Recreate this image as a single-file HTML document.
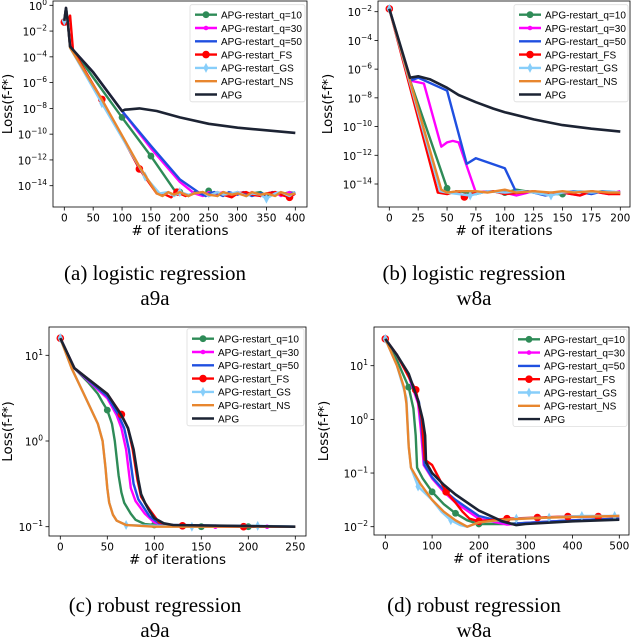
<!DOCTYPE html>
<html><head><meta charset="utf-8"><style>
body{margin:0;background:#fff;}
svg{display:block;font-family:"DejaVu Sans","Liberation Sans",sans-serif;}
.cap{font-family:"Liberation Serif",serif;font-size:21px;fill:#000;}
.lgt{font-family:"Liberation Sans",sans-serif;}
</style></head><body>
<svg id="fig" width="632" height="640" viewBox="0 0 632 640">
<text class="cap" x="155" y="280" text-anchor="middle">(a) logistic regression</text>
<text class="cap" x="155" y="305" text-anchor="middle">a9a</text>
<text class="cap" x="474" y="280" text-anchor="middle">(b) logistic regression</text>
<text class="cap" x="474" y="305" text-anchor="middle">w8a</text>
<text class="cap" x="155" y="612" text-anchor="middle">(c) robust regression</text>
<text class="cap" x="155" y="637" text-anchor="middle">a9a</text>
<text class="cap" x="474" y="612" text-anchor="middle">(d) robust regression</text>
<text class="cap" x="474" y="637" text-anchor="middle">w8a</text>
</svg>
<script>
const seriesNames = ["APG-restart_q=10","APG-restart_q=30","APG-restart_q=50","APG-restart_FS","APG-restart_GS","APG-restart_NS","APG"];
// ===== Panel A =====
const A_x_q10=[0,3,6,10,20,50,100,150,190,200,215,225,240,250,265,275,290,300,315,325,340,350,365,375,390,400];
const A_y_q10=[-1.2,-0.2,-1.3,-3.2,-3.7,-5.6,-8.7,-11.7,-14.3,-14.5,-14.8,-14.5,-14.7,-14.4,-14.8,-14.5,-14.7,-14.5,-14.8,-14.6,-14.5,-14.8,-14.5,-14.7,-14.5,-14.6];
const A_x_q30=[0,3,6,10,20,50,100,150,200,225,240,250,260,275,290,300,315,325,340,350,365,375,390,400];
const A_y_q30=[-1.2,-0.2,-1.3,-3.2,-3.7,-5.2,-8.2,-11.1,-13.7,-14.6,-14.8,-14.5,-14.7,-14.5,-14.8,-14.5,-14.7,-14.5,-14.8,-14.6,-14.5,-14.8,-14.5,-14.7];
const A_x_q50=[0,3,6,10,20,50,100,150,200,235,245,250,260,275,285,300,310,325,340,350,360,375,385,400];
const A_y_q50=[-1.2,-0.2,-1.3,-3.2,-3.7,-5.2,-8.2,-10.9,-13.5,-14.6,-14.8,-14.6,-14.5,-14.8,-14.5,-14.7,-14.5,-14.8,-14.6,-14.7,-14.5,-14.6,-14.8,-14.5];
const A_x_FS=[0,3,6,10,15,65,130,160,175,185,195,210,225,240,250,265,275,290,300,315,325,340,350,365,375,390,400];
const A_y_FS=[-1.3,-0.3,-1.3,-0.8,-3.5,-7.3,-12.7,-14.6,-14.7,-14.9,-14.5,-14.8,-14.6,-14.5,-14.8,-14.5,-14.7,-14.9,-14.6,-14.5,-14.7,-14.8,-14.6,-14.5,-14.7,-14.9,-14.6];
const A_x_GS=[0,3,6,10,65,140,165,180,190,200,215,225,240,250,265,275,290,300,315,325,340,350,365,375,390,400];
const A_y_GS=[-1.2,-0.2,-1.3,-3.3,-7.6,-13.3,-14.6,-14.5,-14.8,-14.5,-14.7,-14.6,-14.5,-14.8,-14.5,-14.7,-14.6,-14.5,-14.8,-14.6,-14.7,-15.0,-14.6,-14.5,-14.8,-14.5];
const A_x_NS=[0,3,6,10,65,130,160,170,180,190,200,215,225,240,250,265,275,290,300,315,325,340,350,365,375,390,400];
const A_y_NS=[-1.2,-0.2,-1.3,-3.3,-7.3,-12.5,-14.6,-14.8,-14.5,-14.7,-14.5,-14.8,-14.6,-14.5,-14.7,-14.8,-14.5,-14.7,-14.6,-14.8,-14.5,-14.7,-14.6,-14.8,-14.5,-14.7,-14.6];
const A_x_APG=[0,3,6,10,20,50,100,105,130,160,200,250,300,350,400];
const A_y_APG=[-1.2,-0.2,-1.3,-3.2,-3.7,-5.2,-8.2,-8.1,-8.0,-8.2,-8.7,-9.2,-9.5,-9.7,-9.9];
const A_xticks=[0,50,100,150,200,250,300,350,400];
const A_yticks=[0,-2,-4,-6,-8,-10,-12,-14];
// ===== Panel B =====
const B_x_q10=[0,18,50,52,60,75,85,100,110,125,135,150,160,175,185,200];
const B_y_q10=[-1.8,-6.8,-14.3,-14.6,-14.5,-14.7,-14.5,-14.6,-14.4,-14.6,-14.7,-14.7,-14.5,-14.6,-14.5,-14.6];
const B_x_q30=[0,18,30,45,50,55,60,75,85,100,110,125,135,150,165,175,190,200];
const B_y_q30=[-1.8,-6.8,-7.0,-11.4,-11.1,-11.0,-11.1,-14.6,-14.5,-14.6,-14.8,-14.5,-14.7,-14.6,-14.8,-14.5,-14.7,-14.5];
const B_x_q50=[0,18,25,50,67,75,100,110,120,125,135,150,160,175,185,200];
const B_y_q50=[-1.8,-6.8,-6.6,-7.5,-12.6,-12.2,-12.9,-14.6,-14.5,-14.6,-14.8,-14.6,-14.5,-14.7,-14.5,-14.6];
const B_x_FS=[0,42,50,58,65,75,90,100,115,125,140,150,165,175,190,200];
const B_y_FS=[-1.8,-14.6,-14.7,-14.5,-14.9,-14.6,-14.5,-14.7,-14.6,-14.5,-14.7,-14.6,-14.8,-14.5,-14.7,-14.7];
const B_x_GS=[0,44,50,60,70,85,100,115,125,140,150,165,175,190,200];
const B_y_GS=[-1.8,-14.5,-14.6,-14.7,-14.8,-14.5,-14.6,-14.5,-14.6,-14.8,-14.6,-14.5,-14.6,-14.5,-14.6];
const B_x_NS=[0,45,50,60,75,85,100,110,125,140,150,160,175,190,200];
const B_y_NS=[-1.8,-14.4,-14.6,-14.5,-14.5,-14.6,-14.4,-14.6,-14.5,-14.6,-14.5,-14.6,-14.5,-14.6,-14.6];
const B_x_APG=[0,18,25,35,50,60,75,90,100,125,150,175,200];
const B_y_APG=[-1.8,-6.6,-6.5,-6.7,-7.3,-7.8,-8.3,-8.75,-9.0,-9.5,-9.9,-10.15,-10.35];
const B_xticks=[0,25,50,75,100,125,150,175,200];
const B_yticks=[-2,-4,-6,-8,-10,-12,-14];
// ===== Panel C =====
const C_x_q10=[0,15,30,40,45,50,55,58,62,65,68,75,80,90,100,150,200,250];
const C_y_q10=[1.2,0.85,0.68,0.55,0.45,0.36,0.2,0.0,-0.4,-0.6,-0.72,-0.85,-0.92,-0.97,-0.98,-1.0,-1.0,-1.0];
const C_x_q30=[0,15,30,50,60,65,70,75,80,90,100,110,165,220,250];
const C_y_q30=[1.2,0.85,0.7,0.5,0.3,0.15,-0.1,-0.55,-0.7,-0.85,-0.95,-0.98,-1.0,-1.0,-1.0];
const C_x_q50=[0,15,30,50,62,68,73,78,83,95,105,115,250];
const C_y_q50=[1.2,0.85,0.71,0.52,0.3,0.15,-0.1,-0.5,-0.68,-0.88,-0.96,-0.98,-1.0];
const C_x_FS=[0,15,30,50,65,72,77,82,86,90,95,105,115,130,195,250];
const C_y_FS=[1.2,0.85,0.72,0.55,0.31,0.15,-0.1,-0.45,-0.65,-0.72,-0.8,-0.95,-0.98,-0.99,-1.0,-1.0];
const C_x_GS=[0,12,25,40,45,48,50,52,56,60,70,140,210,250];
const C_y_GS=[1.2,0.85,0.55,0.2,0.0,-0.3,-0.55,-0.72,-0.86,-0.93,-0.98,-1.0,-0.99,-1.0];
const C_x_NS=[0,12,25,40,45,48,50,52,56,60,70,100,250];
const C_y_NS=[1.2,0.85,0.55,0.2,0.0,-0.3,-0.55,-0.72,-0.86,-0.93,-0.98,-1.0,-1.0];
const C_x_APG=[0,15,30,50,65,72,78,83,86,90,95,100,110,120,250];
const C_y_APG=[1.2,0.85,0.72,0.55,0.3,0.15,-0.1,-0.45,-0.62,-0.72,-0.82,-0.9,-0.96,-0.98,-1.0];
const C_xticks=[0,50,100,150,200,250];
const C_yticks=[1,0,-1];
// ===== Panel D =====
const D_x_q10=[0,25,50,60,65,68,80,100,125,150,175,200,250,300,400,500];
const D_y_q10=[1.5,1.1,0.6,0.2,-0.3,-0.9,-1.1,-1.35,-1.58,-1.75,-1.88,-1.95,-1.95,-1.93,-1.88,-1.85];
const D_x_q30=[0,25,50,70,76,80,82,100,125,150,200,260,300,400,500];
const D_y_q30=[1.5,1.2,0.8,0.3,-0.2,-0.6,-0.85,-1.1,-1.35,-1.55,-1.85,-1.96,-1.93,-1.88,-1.85];
const D_x_q50=[0,25,50,72,78,82,84,100,125,150,200,270,300,400,500];
const D_y_q50=[1.5,1.2,0.82,0.32,-0.2,-0.6,-0.85,-1.08,-1.32,-1.5,-1.8,-1.95,-1.93,-1.88,-1.85];
const D_x_FS=[0,25,65,78,82,84,100,115,130,150,165,180,200,260,325,390,455,500];
const D_y_FS=[1.5,1.2,0.55,0.0,-0.5,-0.75,-0.85,-1.1,-1.35,-1.55,-1.72,-1.85,-1.9,-1.85,-1.83,-1.81,-1.81,-1.8];
const D_x_GS=[0,25,45,50,55,70,100,120,140,160,175,200,280,350,420,490,500];
const D_y_GS=[1.5,1.0,0.4,-0.5,-0.9,-1.25,-1.5,-1.72,-1.88,-1.97,-2.0,-1.92,-1.85,-1.83,-1.8,-1.8,-1.8];
const D_x_NS=[0,25,40,45,50,55,75,100,125,150,175,200,250,350,500];
const D_y_NS=[1.5,1.0,0.6,0.3,-0.5,-0.9,-1.2,-1.5,-1.72,-1.88,-2.0,-1.92,-1.87,-1.83,-1.8];
const D_x_APG=[0,25,50,70,80,85,87,100,125,150,200,250,280,300,400,500];
const D_y_APG=[1.5,1.2,0.85,0.35,0.0,-0.3,-0.8,-1.0,-1.22,-1.4,-1.7,-1.9,-1.97,-1.95,-1.9,-1.87];
const D_xticks=[0,100,200,300,400,500];
const D_yticks=[1,0,-1,-2];

const colors=["#2e8b57","#ff00ff","#1f4fe0","#ff0000","#87cefa","#e8862e","#1c2333"];
const NS="http://www.w3.org/2000/svg";
const svg=document.getElementById("fig");
function mk(tag,attrs,parent){const e=document.createElementNS(NS,tag);for(const k in attrs)e.setAttribute(k,attrs[k]);(parent||svg).appendChild(e);return e;}

function panel(p){
  const g=mk("g",{});
  
  
  const sx=v=>p.px0+(v-p.xmin)*(p.px1-p.px0)/(p.xmax-p.xmin);
  const sy=v=>p.py0+(p.yv0-v)*(p.py1-p.py0)/(p.yv0-p.yv1);
  const clip=mk("clipPath",{id:"clip"+p.id},g);
  mk("rect",{x:p.bx0,y:p.by0,width:p.bx1-p.bx0,height:p.by1-p.by0},clip);
  const plot=mk("g",{"clip-path":"url(#clip"+p.id+")"},g);
  
  
  p.series.forEach((s,i)=>{
    const pts=s.x.map((xv,j)=>sx(xv).toFixed(1)+","+sy(s.y[j]).toFixed(1)).join(" ");
    const line=mk("polyline",{points:pts,fill:"none",stroke:colors[i],"stroke-width":i==6?2.6:2.4,"stroke-linejoin":"round"},plot);
    
    
    s.x.forEach((xv,j)=>{
      if(!s.m||s.m.indexOf(xv)<0)return;
      drawMarker(plot,i,sx(xv),sy(s.y[j]));
    });
  });
  const fr=mk("rect",{x:p.bx0,y:p.by0,width:p.bx1-p.bx0,height:p.by1-p.by0,fill:"none",stroke:"#000","stroke-width":0.8},g);
  
  
  p.xticks.forEach(t=>{
    const X=sx(t);
    mk("line",{x1:X,x2:X,y1:p.by1,y2:p.by1+3.5,stroke:"#000","stroke-width":0.8},g);
    const tx=mk("text",{x:X,y:p.by1+14.5,"font-size":10.5,"text-anchor":"middle",fill:"#000"},g);
    tx.textContent=t;
    
    
  });
  p.yticks.forEach(t=>{
    const Y=sy(t);
    mk("line",{x1:p.bx0,x2:p.bx0-3.5,y1:Y,y2:Y,stroke:"#000","stroke-width":0.8},g);
    const tx=mk("text",{x:p.bx0-6,y:Y+4.5,"font-size":10.5,"text-anchor":"end",fill:"#000"},g);
    
    
    const e=(t<0?"\u2212":"")+Math.abs(t);
    tx.innerHTML='10<tspan dy="-5" font-size="7.5">'+e+'</tspan>';
  });
  const xl=mk("text",{x:(p.bx0+p.bx1)/2,y:p.by1+28,"font-size":13.5,"text-anchor":"middle",fill:"#000"},g);
  xl.textContent="# of iterations";
  
  
  const yl=mk("text",{x:0,y:0,"font-size":13.5,"text-anchor":"middle",fill:"#000",transform:"translate("+p.ylx+","+(p.by0+p.by1)/2+") rotate(-90)"},g);
  yl.textContent="Loss(f-f*)";
  
  
  const lg=mk("g",{},g);
  
  
  mk("rect",{x:p.lx-5,y:p.ly-10,width:p.bx1-p.lx+3,height:7*13.3+4,fill:"#fff","fill-opacity":0.85,stroke:"#ddd","stroke-width":0.8,rx:2},lg);
  seriesNames.forEach((n,i)=>{
    const Y=p.ly+i*13.3;
    const ent=mk("g",{},lg);
    
    
    mk("line",{x1:p.lx,x2:p.lx+22,y1:Y,y2:Y,stroke:colors[i],"stroke-width":2.4},ent);
    if(i<5)drawMarker(ent,i,p.lx+11,Y);
    const t=mk("text",{x:p.lx+26,y:Y+3.8,"font-size":10,fill:"#000","class":"lgt"},ent);
    t.textContent=n;
  });
}
function drawMarker(par,i,X,Y){
  const c=colors[i];
  let m;
  if(i==0)m=mk("circle",{cx:X,cy:Y,r:3.4,fill:c},par);
  else if(i==1)m=mk("circle",{cx:X,cy:Y,r:2.3,fill:c},par);
  else if(i==3)m=mk("circle",{cx:X,cy:Y,r:3.8,fill:c},par);
  else if(i==4)m=mk("polygon",{points:[X,Y-5,X+2.6,Y,X,Y+5,X-2.6,Y].join(","),fill:c},par);
  else return;
  
  
}
const S=(x,y,m)=>({x,y,m});
panel({id:"a",bx0:53,bx1:307,by0:1,by1:207,px0:64.3,px1:295.3,xmin:0,xmax:400,py0:5.3,py1:185.7,yv0:0,yv1:-14,xticks:A_xticks,yticks:A_yticks,ylx:12,lx:195,ly:14.7,
 series:[S(A_x_q10,A_y_q10,[100,150,200,250,350]),S(A_x_q30,A_y_q30,[]),S(A_x_q50,A_y_q50,[]),S(A_x_FS,A_y_FS,[0,65,130,195,390]),S(A_x_GS,A_y_GS,[0,65,140,200,350]),S(A_x_NS,A_y_NS,[]),S(A_x_APG,A_y_APG,[])]});
panel({id:"b",bx0:378,bx1:630,by0:1,by1:207,px0:389.3,px1:620.3,xmin:0,xmax:200,py0:11.7,py1:184,yv0:-2,yv1:-14,xticks:B_xticks,yticks:B_yticks,ylx:332,lx:519,ly:14.7,
 series:[S(B_x_q10,B_y_q10,[50,100,150]),S(B_x_q30,B_y_q30,[]),S(B_x_q50,B_y_q50,[]),S(B_x_FS,B_y_FS,[0,65]),S(B_x_GS,B_y_GS,[0,70,140]),S(B_x_NS,B_y_NS,[]),S(B_x_APG,B_y_APG,[])]});
panel({id:"c",bx0:49,bx1:306,by0:327,by1:536,px0:60.3,px1:295.3,xmin:0,xmax:250,py0:355.3,py1:526.7,yv0:1,yv1:-1,xticks:C_xticks,yticks:C_yticks,ylx:12,lx:192,ly:338.7,
 series:[S(C_x_q10,C_y_q10,[50,100,150,200]),S(C_x_q30,C_y_q30,[165,220]),S(C_x_q50,C_y_q50,[]),S(C_x_FS,C_y_FS,[0,65,130,195]),S(C_x_GS,C_y_GS,[0,70,140,210]),S(C_x_NS,C_y_NS,[]),S(C_x_APG,C_y_APG,[])]});
panel({id:"d",bx0:374,bx1:629,by0:327,by1:535,px0:385.3,px1:619.3,xmin:0,xmax:500,py0:365.7,py1:526.7,yv0:1,yv1:-2,xticks:D_xticks,yticks:D_yticks,ylx:328,lx:518,ly:339.3,
 series:[S(D_x_q10,D_y_q10,[50,100,150,200]),S(D_x_q30,D_y_q30,[]),S(D_x_q50,D_y_q50,[]),S(D_x_FS,D_y_FS,[0,65,130,200,260,325,390,455]),S(D_x_GS,D_y_GS,[0,70,140,280,350,420,490]),S(D_x_NS,D_y_NS,[]),S(D_x_APG,D_y_APG,[])]});
</script>
</body></html>
